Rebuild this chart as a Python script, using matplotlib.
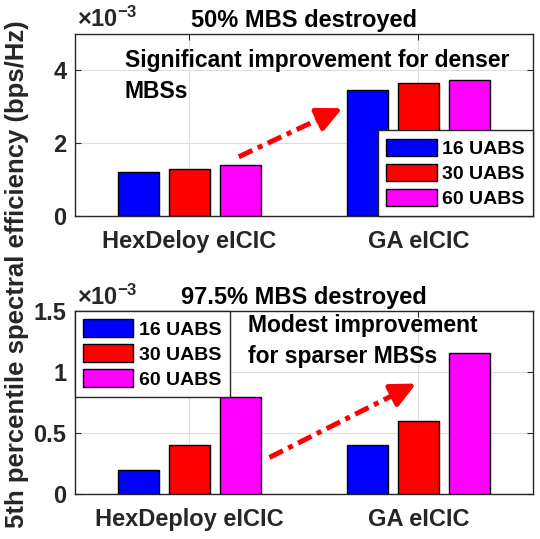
import numpy as np
import matplotlib
matplotlib.use('Agg')
import matplotlib.pyplot as plt

# data (bps/Hz)
series = ['16 UABS', '30 UABS', '60 UABS']
colors = ['#0000ff', '#ff0000', '#ff00ff']

top_labels = ['HexDeloy eICIC', 'GA eICIC']
top_16 = [1.2e-3, 3.45e-3]
top_30 = [1.3e-3, 3.65e-3]
top_60 = [1.4e-3, 3.73e-3]

bot_labels = ['HexDeploy eICIC', 'GA eICIC']
bot_16 = [0.2e-3, 0.4e-3]
bot_30 = [0.4e-3, 0.6e-3]
bot_60 = [0.8e-3, 1.16e-3]

scale = 1e3  # axes show values x 10^-3

plt.rcParams['font.family'] = ['Liberation Sans', 'DejaVu Sans']
plt.rcParams['font.weight'] = 'bold'
plt.rcParams['mathtext.fontset'] = 'custom'
plt.rcParams['mathtext.rm'] = 'Liberation Sans'
plt.rcParams['mathtext.bf'] = 'Liberation Sans:bold'

dark = '#262626'
W, H = 540, 539
fig = plt.figure(figsize=(W / 100, H / 100), dpi=100)


def px_axes(left, top, right, bottom):
    return fig.add_axes([left / W, 1 - bottom / H, (right - left) / W, (bottom - top) / H])


def draw(ax, labels, vals, ylim, yticks, yticklabels, title):
    x = np.arange(1, len(labels) + 1)
    offs = [-0.2222, 0, 0.2222]
    for v, c, s, o in zip(vals, colors, series, offs):
        ax.bar(x + o, np.array(v) * scale, width=0.18, color=c, edgecolor='black',
               linewidth=1, label=s, zorder=3)
    ax.set_xlim(0.5, 2.5)
    ax.set_ylim(*ylim)
    ax.set_xticks(x)
    ax.set_xticklabels(labels)
    ax.set_yticks(yticks)
    ax.set_yticklabels(yticklabels)
    ax.tick_params(direction='in', length=4, width=0.8, colors=dark, labelsize=17,
                   top=True, right=True)
    ax.tick_params(axis='x', pad=10)
    ax.tick_params(axis='y', pad=6)
    for sp in ax.spines.values():
        sp.set_color(dark)
        sp.set_linewidth(1)
    ax.grid(True, color='#dfdfdf', linewidth=0.8, zorder=0)
    ax.set_axisbelow(True)
    ax.set_title(title, fontsize=17, fontweight='bold', pad=5)
    ax.text(0.005, 1.036, r'$\times\mathbf{10^{-3}}$', transform=ax.transAxes,
            fontsize=17, color=dark, ha='left', va='baseline')


def arrow(ax, start, end):
    sx, sy = start
    ex, ey = end
    # stop the dashed line a bit before the head
    fx = sx + (ex - sx) * 0.9
    fy = sy + (ey - sy) * 0.9
    ax.plot([sx, fx], [sy, fy], color='red', linewidth=3.6,
            linestyle=(0, (3, 1.2, 1, 1.2)), solid_capstyle='butt', zorder=4)
    ax.annotate('', xy=end, xytext=(fx - (ex - sx) * 0.02, fy - (ey - sy) * 0.02),
                arrowprops=dict(arrowstyle='-|>,head_length=0.5,head_width=0.24',
                                color='red', lw=3.6, mutation_scale=30,
                                shrinkA=0, shrinkB=0), zorder=5)


def legend(ax, **kw):
    leg = ax.legend(borderaxespad=0, fontsize=14, handlelength=2.58, handleheight=1.03,
                    handletextpad=0.3, labelspacing=0.28, borderpad=0.42,
                    fancybox=False, framealpha=1, edgecolor=dark, **kw)
    leg.get_frame().set_linewidth(1)
    return leg


ax1 = px_axes(74.7, 33.7, 533, 216.3)
draw(ax1, top_labels, [top_16, top_30, top_60], (0, 5), [0, 2, 4], ['0', '2', '4'],
     '50% MBS destroyed')
legend(ax1, loc='lower right', bbox_to_anchor=(1, 0))
ax1.text(0.718, 4.58, 'Significant improvement for denser\nMBSs', fontsize=16.5,
         fontweight='bold', ha='left', va='top', linespacing=1.45, zorder=6)
arrow(ax1, (1.216, 1.63), (1.668, 2.96))

ax2 = px_axes(74.7, 311.3, 533, 494)
draw(ax2, bot_labels, [bot_16, bot_30, bot_60], (0, 1.5), [0, 0.5, 1, 1.5],
     ['0', '0.5', '1', '1.5'], '97.5% MBS destroyed')
legend(ax2, loc='upper left', bbox_to_anchor=(0, 1))
ax2.text(1.255, 1.48, 'Modest improvement\nfor sparser MBSs', fontsize=16.5,
         fontweight='bold', ha='left', va='top', linespacing=1.45, zorder=6)
arrow(ax2, (1.35, 0.30), (1.99, 0.907))

fig.text(17 / W, 1 - 274.5 / H, '5th percentile spectral efficiency (bps/Hz)',
         rotation=90, ha='center', va='center', fontsize=18.5, fontweight='bold',
         color=dark)

fig.savefig('out.png', dpi=100, facecolor='white')
